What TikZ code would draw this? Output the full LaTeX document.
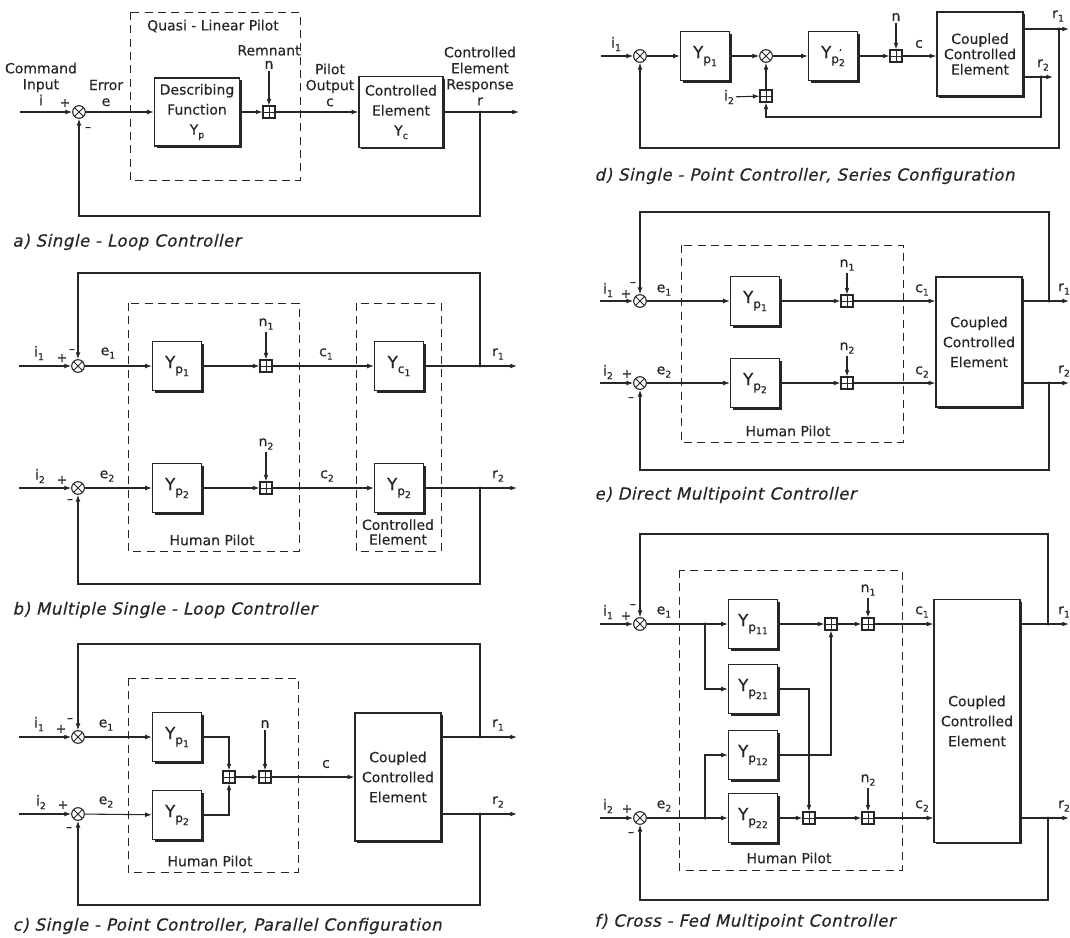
\documentclass[tikz,border=0pt]{standalone}
\usepackage{fontspec}
\setmainfont[FakeBold=0.35]{DejaVu Sans}
\newfontfamily\capfont[FakeSlant=0.22,FakeBold=0.5,LetterSpace=3]{DejaVu Sans}
\usepackage{tikz}
\usetikzlibrary{arrows.meta,shadows}
\definecolor{ink}{HTML}{262626}
\newcommand{\lowsub}[1]{\raisebox{-0.45ex}{\scriptsize #1}}
\newcommand{\Ysub}[2]{Y\raisebox{-0.55ex}{\small #1\raisebox{-0.45ex}{\scriptsize #2}}}
\begin{document}
\begin{tikzpicture}[x=0.75pt, y=-0.75pt, line width=0.8pt, draw=ink, ink,
    >={Latex[length=5pt,width=3.6pt]},
    blk/.style={rectangle, draw=ink, line width=0.95pt, fill=white, align=center,
                minimum width=36.75pt, minimum height=36.75pt, inner sep=1pt,
                font=\fontsize{12.5}{14}\selectfont,
                drop shadow={shadow xshift=1.6pt, shadow yshift=-1.6pt, fill=ink, opacity=1}},
    cce/.style={blk, minimum width=64.5pt, font=\fontsize{10.5}{15}\selectfont},
    pilot/.style={draw=ink, line width=0.7pt, dash pattern=on 6pt off 4pt},
    cmp/.style={circle, draw=ink, fill=white, minimum size=9.5pt, inner sep=0pt,
                path picture={\draw[line width=0.6pt] (path picture bounding box.north west) -- (path picture bounding box.south east)
                                (path picture bounding box.south west) -- (path picture bounding box.north east);}},
    adder/.style={rectangle, draw=ink, fill=white, minimum size=9pt, inner sep=0pt,
                path picture={\draw[line width=0.6pt] (path picture bounding box.north) -- (path picture bounding box.south)
                                (path picture bounding box.west) -- (path picture bounding box.east);}},
    lbl/.style={font=\fontsize{10.5}{12}\selectfont, inner sep=1pt, align=center},
    sgn/.style={font=\fontsize{9}{10}\selectfont, inner sep=0pt},
    junc/.style={circle, fill=ink, inner sep=0pt, minimum size=2.6pt},
    figcap/.style={anchor=west, inner sep=0pt, font=\capfont\fontsize{12.5}{14}\selectfont},
  ]
  \useasboundingbox (0,0) rectangle (1070,938);

  % a) single loop
  \draw[pilot] (130,12) rectangle (300,180);
  \node[cmp] (a-cmp) at (79,112) {};
  \node[blk, minimum width=63.75pt, minimum height=51pt, font=\fontsize{10.5}{15}\selectfont] (a-yp) at (197,112) {Describing\\Function\\Y\lowsub{p}};
  \node[adder] (a-sum) at (269,112) {};
  \node[blk, minimum width=63pt, minimum height=53pt, font=\fontsize{10.5}{15}\selectfont] (a-yc) at (401,112) {Controlled\\Element\\Y\lowsub{c}};
  \coordinate (a-in) at (20,112);
  \coordinate (a-tap) at (480,112);
  \coordinate (a-out) at (519,112);
  \coordinate (a-fb) at (79,216);
  \node[lbl] (a-i) at (41,84) {Command\\Input\\i};
  \node[sgn] (a-plus) at (65,103) {+};
  \node[sgn] (a-minus) at (88,129) {--};
  \node[lbl] (a-e) at (106,93) {Error\\e};
  \node[lbl] (a-ql) at (213,26) {Quasi - Linear Pilot};
  \node[lbl] (a-n) at (269,57) {Remnant\\[-2pt]n};
  \node[lbl] (a-c) at (330,85) {Pilot\\Output\\c};
  \node[lbl] (a-r) at (480,76) {Controlled\\Element\\Response\\r};
  \node[junc] (a-dot) at (a-tap) {};
  \draw[->] (a-in) -- (a-cmp);
  \draw[->] (a-cmp) -- (a-yp);
  \draw[->] (a-yp) -- (a-sum);
  \draw[->] (a-n) -- (a-sum);
  \draw[->] (a-sum) -- (a-yc);
  \draw[->] (a-yc) -- (a-out);
  \draw[->] (a-tap) |- (a-fb) -- (a-cmp);
  \node[figcap] (a-cap) at (12,242) {a) Single - Loop Controller};

  % b) multiple single loop
  \draw[pilot] (128,303) rectangle (299,551);
  \draw[pilot] (356,303) rectangle (441,551);
  \node[cmp] (b-cmp1) at (78,366) {};
  \node[cmp] (b-cmp2) at (78,488) {};
  \node[blk] (b-yp1) at (177,366) {\Ysub{p}{1}};
  \node[blk] (b-yp2) at (177,488) {\Ysub{p}{2}};
  \node[adder] (b-sum1) at (266,366) {};
  \node[adder] (b-sum2) at (266,488) {};
  \node[blk] (b-yc1) at (399,366) {\Ysub{c}{1}};
  \node[blk] (b-yc2) at (399,488) {\Ysub{p}{2}};
  \coordinate (b-in1) at (19,366);
  \coordinate (b-in2) at (19,488);
  \coordinate (b-tap1) at (480,366);
  \coordinate (b-tap2) at (480,488);
  \coordinate (b-out1) at (517,366);
  \coordinate (b-out2) at (517,488);
  \coordinate (b-top) at (78,273);
  \coordinate (b-bot) at (78,584);
  \node[lbl] (b-i1) at (39,353) {i\lowsub{1}};
  \node[sgn] (b-p1) at (62,358) {+};
  \node[sgn] (b-m1) at (72,351) {--};
  \node[lbl] (b-e1) at (108,353) {e\lowsub{1}};
  \node[lbl] (b-n1) at (266,324) {n\lowsub{1}};
  \node[lbl] (b-c1) at (326,354) {c\lowsub{1}};
  \node[lbl] (b-r1) at (498,354) {r\lowsub{1}};
  \node[lbl] (b-i2) at (40,476) {i\lowsub{2}};
  \node[sgn] (b-p2) at (62,480) {+};
  \node[sgn] (b-m2) at (70,501) {--};
  \node[lbl] (b-e2) at (107,476) {e\lowsub{2}};
  \node[lbl] (b-n2) at (266,444) {n\lowsub{2}};
  \node[lbl] (b-c2) at (327,476) {c\lowsub{2}};
  \node[lbl] (b-r2) at (498,476) {r\lowsub{2}};
  \node[lbl] (b-hp) at (212,540) {Human Pilot};
  \node[lbl] (b-ce) at (398,532) {Controlled\\[-1pt]Element};
  \node[junc] (b-dot1) at (b-tap1) {};
  \node[junc] (b-dot2) at (b-tap2) {};
  \draw[->] (b-in1) -- (b-cmp1);
  \draw[->] (b-cmp1) -- (b-yp1);
  \draw[->] (b-yp1) -- (b-sum1);
  \draw[->] (b-n1) -- (b-sum1);
  \draw[->] (b-sum1) -- (b-yc1);
  \draw[->] (b-yc1) -- (b-out1);
  \draw[->] (b-tap1) |- (b-top) -- (b-cmp1);
  \draw[->] (b-in2) -- (b-cmp2);
  \draw[->] (b-cmp2) -- (b-yp2);
  \draw[->] (b-yp2) -- (b-sum2);
  \draw[->] (b-n2) -- (b-sum2);
  \draw[->] (b-sum2) -- (b-yc2);
  \draw[->] (b-yc2) -- (b-out2);
  \draw[->] (b-tap2) |- (b-bot) -- (b-cmp2);
  \node[figcap] (b-cap) at (12,610) {b) Multiple Single - Loop Controller};

  % c) single point, parallel
  \draw[pilot] (128,678) rectangle (298,872);
  \node[cmp] (c-cmp1) at (78,737) {};
  \node[cmp] (c-cmp2) at (78,814) {};
  \node[blk] (c-yp1) at (177,737) {\Ysub{p}{1}};
  \node[blk] (c-yp2) at (177,815) {\Ysub{p}{2}};
  \node[adder] (c-sum) at (229,777) {};
  \node[adder] (c-sumn) at (265,777) {};
  \node[cce, minimum height=96pt] (c-cce) at (398,777) {Coupled\\Controlled\\Element};
  \coordinate (c-in1) at (19,737);
  \coordinate (c-in2) at (19,814);
  \coordinate (c-tap1) at (480,737);
  \coordinate (c-tap2) at (480,814);
  \coordinate (c-out1) at (517,737);
  \coordinate (c-out2) at (517,814);
  \coordinate (c-top) at (78,644);
  \coordinate (c-bot) at (78,905);
  \node[lbl] (c-i1) at (39,724) {i\lowsub{1}};
  \node[sgn] (c-p1) at (61,729) {+};
  \node[sgn] (c-m1) at (70,720) {--};
  \node[lbl] (c-e1) at (106,725) {e\lowsub{1}};
  \node[lbl] (c-i2) at (41,802) {i\lowsub{2}};
  \node[sgn] (c-p2) at (63,805) {+};
  \node[sgn] (c-m2) at (69,829) {--};
  \node[lbl] (c-e2) at (106,802) {e\lowsub{2}};
  \node[lbl] (c-n) at (265,724) {n};
  \node[lbl] (c-c) at (326,764) {c};
  \node[lbl] (c-r1) at (498,725) {r\lowsub{1}};
  \node[lbl] (c-r2) at (498,802) {r\lowsub{2}};
  \node[lbl] (c-hp) at (210,861) {Human Pilot};
  \node[junc] (c-dot1) at (c-tap1) {};
  \node[junc] (c-dot2) at (c-tap2) {};
  \draw[->] (c-in1) -- (c-cmp1);
  \draw[->] (c-cmp1) -- (c-yp1);
  \draw[->] (c-in2) -- (c-cmp2);
  \draw[->] (c-cmp2) -- (c-yp2);
  \draw[->] (c-yp1) -| (c-sum);
  \draw[->] (c-yp2) -| (c-sum);
  \draw[->] (c-sum) -- (c-sumn);
  \draw[->] (c-n) -- (c-sumn);
  \draw[->] (c-sumn) -- (c-cce);
  \draw[->] (c-tap1 -| c-cce.east) -- (c-out1);
  \draw[->] (c-tap2 -| c-cce.east) -- (c-out2);
  \draw[->] (c-tap1) |- (c-top) -- (c-cmp1);
  \draw[->] (c-tap2) |- (c-bot) -- (c-cmp2);
  \node[figcap] (c-cap) at (12,926) {c) Single - Point Controller, Parallel Configuration};

  % d) single point, series
  \node[cmp] (d-cmp1) at (640,56) {};
  \node[blk] (d-yp1) at (705,56) {\Ysub{p}{1}};
  \node[cmp] (d-cmp2) at (766,56) {};
  \node[blk] (d-yp2) at (833,56) {Y\raisebox{-0.55ex}{\small p\rlap{\raisebox{1.1ex}{\scriptsize\textquoteright}}\raisebox{-0.45ex}{\scriptsize 2}}};
  \node[adder] (d-sumn) at (896,56) {};
  \node[adder] (d-sumi) at (766,96) {};
  \node[cce, minimum height=63pt, font=\fontsize{10.5}{11.5}\selectfont] (d-cce) at (980,54) {Coupled\\Controlled\\Element};
  \coordinate (d-in) at (601,56);
  \coordinate (d-tap1) at (1059,29);
  \coordinate (d-out1) at (1069,29);
  \coordinate (d-tap2) at (1041,77);
  \coordinate (d-out2) at (1053,77);
  \coordinate (d-fb1) at (640,148);
  \coordinate (d-fb2) at (766,117);
  \node[lbl] (d-i1) at (616,44) {i\lowsub{1}};
  \node[lbl] (d-i2) at (729,97) {i\lowsub{2}};
  \node[lbl] (d-n) at (896,17) {n};
  \node[lbl] (d-c) at (919,44) {c};
  \node[lbl] (d-r1) at (1058,16) {r\lowsub{1}};
  \node[lbl] (d-r2) at (1043,65) {r\lowsub{2}};
  \node[junc] (d-dot1) at (d-tap1) {};
  \node[junc] (d-dot2) at (d-tap2) {};
  \draw[->] (d-in) -- (d-cmp1);
  \draw[->] (d-cmp1) -- (d-yp1);
  \draw[->] (d-yp1) -- (d-cmp2);
  \draw[->] (d-cmp2) -- (d-yp2);
  \draw[->] (d-yp2) -- (d-sumn);
  \draw[->] (d-n) -- (d-sumn);
  \draw[->] (d-sumn) -- (d-sumn -| d-cce.west);
  \draw[->] (d-tap1 -| d-cce.east) -- (d-out1);
  \draw[->] (d-tap2 -| d-cce.east) -- (d-out2);
  \draw[->] (d-i2) -- (d-sumi);
  \draw[->] (d-sumi) -- (d-cmp2);
  \draw[->] (d-tap2) |- (d-fb2) -- (d-sumi);
  \draw[->] (d-tap1) |- (d-fb1) -- (d-cmp1);
  \node[figcap] (d-cap) at (594,176) {d) Single - Point Controller, Series Configuration};

  % e) direct multipoint
  \draw[pilot] (681,245) rectangle (903,442);
  \node[cmp] (e-cmp1) at (640,301) {};
  \node[cmp] (e-cmp2) at (640,383) {};
  \node[blk] (e-yp1) at (755,301) {\Ysub{p}{1}};
  \node[blk] (e-yp2) at (755,383) {\Ysub{p}{2}};
  \node[adder] (e-sum1) at (847,301) {};
  \node[adder] (e-sum2) at (847,383) {};
  \node[cce, minimum height=97.5pt] (e-cce) at (979,342) {Coupled\\Controlled\\Element};
  \coordinate (e-in1) at (600,301);
  \coordinate (e-in2) at (600,383);
  \coordinate (e-tap1) at (1049,301);
  \coordinate (e-tap2) at (1049,383);
  \coordinate (e-out1) at (1069,301);
  \coordinate (e-out2) at (1069,383);
  \coordinate (e-top) at (640,212);
  \coordinate (e-bot) at (640,470);
  \node[lbl] (e-i1) at (608,290) {i\lowsub{1}};
  \node[sgn] (e-p1) at (626,294) {+};
  \node[sgn] (e-m1) at (633,284) {--};
  \node[lbl] (e-e1) at (664,290) {e\lowsub{1}};
  \node[lbl] (e-i2) at (608,372) {i\lowsub{2}};
  \node[sgn] (e-p2) at (627,374) {+};
  \node[sgn] (e-m2) at (631,399) {--};
  \node[lbl] (e-e2) at (664,372) {e\lowsub{2}};
  \node[lbl] (e-n1) at (847,265) {n\lowsub{1}};
  \node[lbl] (e-n2) at (847,348) {n\lowsub{2}};
  \node[lbl] (e-c1) at (922,290) {c\lowsub{1}};
  \node[lbl] (e-c2) at (922,372) {c\lowsub{2}};
  \node[lbl] (e-r1) at (1064,289) {r\lowsub{1}};
  \node[lbl] (e-r2) at (1064,371) {r\lowsub{2}};
  \node[lbl] (e-hp) at (788,431) {Human Pilot};
  \node[junc] (e-dot1) at (e-tap1) {};
  \node[junc] (e-dot2) at (e-tap2) {};
  \draw[->] (e-in1) -- (e-cmp1);
  \draw[->] (e-cmp1) -- (e-yp1);
  \draw[->] (e-yp1) -- (e-sum1);
  \draw[->] (e-n1) -- (e-sum1);
  \draw[->] (e-sum1) -- (e-sum1 -| e-cce.west);
  \draw[->] (e-in2) -- (e-cmp2);
  \draw[->] (e-cmp2) -- (e-yp2);
  \draw[->] (e-yp2) -- (e-sum2);
  \draw[->] (e-n2) -- (e-sum2);
  \draw[->] (e-sum2) -- (e-sum2 -| e-cce.west);
  \draw[->] (e-tap1 -| e-cce.east) -- (e-out1);
  \draw[->] (e-tap2 -| e-cce.east) -- (e-out2);
  \draw[->] (e-tap1) |- (e-top) -- (e-cmp1);
  \draw[->] (e-tap2) |- (e-bot) -- (e-cmp2);
  \node[figcap] (e-cap) at (594,495) {e) Direct Multipoint Controller};

  % f) cross-fed multipoint
  \draw[pilot] (679,570) rectangle (902,870);
  \node[cmp] (f-cmp1) at (640,624) {};
  \node[cmp] (f-cmp2) at (640,818) {};
  \node[blk] (f-yp11) at (753,624) {\Ysub{p}{11}};
  \node[blk] (f-yp21) at (753,689) {\Ysub{p}{21}};
  \node[blk] (f-yp12) at (753,755) {\Ysub{p}{12}};
  \node[blk] (f-yp22) at (753,818) {\Ysub{p}{22}};
  \node[adder] (f-sumx1) at (831,624) {};
  \node[adder] (f-sumn1) at (868,624) {};
  \node[adder] (f-sumx2) at (809,818) {};
  \node[adder] (f-sumn2) at (868,818) {};
  \node[cce, minimum height=182pt] (f-cce) at (977,721) {Coupled\\Controlled\\Element};
  \coordinate (f-in1) at (600,624);
  \coordinate (f-in2) at (600,818);
  \coordinate (f-br1) at (705,624);
  \coordinate (f-br2) at (705,818);
  \coordinate (f-tap1) at (1048,624);
  \coordinate (f-tap2) at (1048,818);
  \coordinate (f-out1) at (1069,624);
  \coordinate (f-out2) at (1069,818);
  \coordinate (f-top) at (640,534);
  \coordinate (f-bot) at (640,900);
  \node[lbl] (f-i1) at (608,612) {i\lowsub{1}};
  \node[sgn] (f-p1) at (626,616) {+};
  \node[sgn] (f-m1) at (633,606) {--};
  \node[lbl] (f-e1) at (664,612) {e\lowsub{1}};
  \node[lbl] (f-i2) at (608,806) {i\lowsub{2}};
  \node[sgn] (f-p2) at (627,809) {+};
  \node[sgn] (f-m2) at (631,834) {--};
  \node[lbl] (f-e2) at (664,806) {e\lowsub{2}};
  \node[lbl] (f-n1) at (868,590) {n\lowsub{1}};
  \node[lbl] (f-n2) at (868,780) {n\lowsub{2}};
  \node[lbl] (f-c1) at (922,612) {c\lowsub{1}};
  \node[lbl] (f-c2) at (922,806) {c\lowsub{2}};
  \node[lbl] (f-r1) at (1064,612) {r\lowsub{1}};
  \node[lbl] (f-r2) at (1064,806) {r\lowsub{2}};
  \node[lbl] (f-hp) at (789,858) {Human Pilot};
  \node[junc] (f-dot1) at (f-tap1) {};
  \node[junc] (f-dot2) at (f-tap2) {};
  \node[junc] (f-dot3) at (f-br1) {};
  \node[junc] (f-dot4) at (f-br2) {};
  \draw[->] (f-in1) -- (f-cmp1);
  \draw[->] (f-cmp1) -- (f-yp11);
  \draw[->] (f-br1) |- (f-yp21);
  \draw[->] (f-in2) -- (f-cmp2);
  \draw[->] (f-cmp2) -- (f-yp22);
  \draw[->] (f-br2) |- (f-yp12);
  \draw[->] (f-yp11) -- (f-sumx1);
  \draw[->] (f-yp12) -| (f-sumx1);
  \draw[->] (f-sumx1) -- (f-sumn1);
  \draw[->] (f-n1) -- (f-sumn1);
  \draw[->] (f-sumn1) -- (f-sumn1 -| f-cce.west);
  \draw[->] (f-yp22) -- (f-sumx2);
  \draw[->] (f-yp21) -| (f-sumx2);
  \draw[->] (f-sumx2) -- (f-sumn2);
  \draw[->] (f-n2) -- (f-sumn2);
  \draw[->] (f-sumn2) -- (f-sumn2 -| f-cce.west);
  \draw[->] (f-tap1 -| f-cce.east) -- (f-out1);
  \draw[->] (f-tap2 -| f-cce.east) -- (f-out2);
  \draw[->] (f-tap1) |- (f-top) -- (f-cmp1);
  \draw[->] (f-tap2) |- (f-bot) -- (f-cmp2);
  \node[figcap] (f-cap) at (594,922) {f) Cross - Fed Multipoint Controller};
\end{tikzpicture}
\end{document}
